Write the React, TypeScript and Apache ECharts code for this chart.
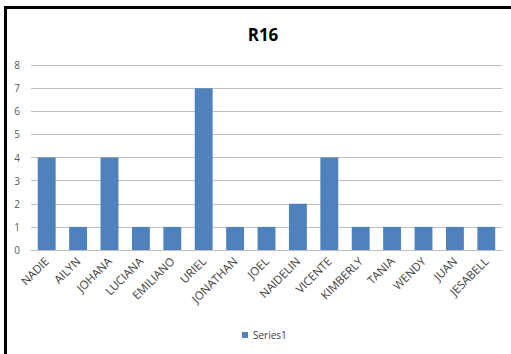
import React, { useEffect, useRef } from "react";
import * as echarts from "echarts";

const categories = ["NADIE", "AILYN", "JOHANA", "LUCIANA", "EMILIANO", "URIEL", "JONATHAN", "JOEL", "NAIDELIN", "VICENTE", "KIMBERLY", "TANIA", "WENDY", "JUAN", "JESABELL"];
const series1 = [4, 1, 4, 1, 1, 7, 1, 1, 2, 4, 1, 1, 1, 1, 1];
const seriesName = "Series1";
const titleText = "R16";

export default function App() {
  const ref = useRef<HTMLDivElement>(null);
  useEffect(() => {
    const chart = echarts.init(ref.current!, null, { renderer: "svg" });
    const font = "'Open Sans', 'Liberation Sans', sans-serif";
    chart.setOption({
      animation: false,
      backgroundColor: "#ffffff",
      title: {
        text: titleText,
        left: 258,
        textAlign: "center",
        top: 21,
        textStyle: { fontFamily: font, fontSize: 17, fontWeight: "bold", color: "#000" },
      },
      graphic: [
        {
          type: "polyline",
          shape: { points: [[5.5, 354], [5.5, 7.5], [511, 7.5]] },
          style: { stroke: "#000", lineWidth: 3, fill: null },
          z: 100,
        },
      ],
      legend: {
        data: [seriesName],
        bottom: 9,
        left: 237,
        icon: "rect",
        itemWidth: 6,
        itemHeight: 6,
        itemGap: 4,
        textStyle: { fontFamily: font, fontSize: 10, color: "#404040" },
      },
      grid: { left: 31, right: 9, top: 65, bottom: 104 },
      xAxis: {
        type: "category",
        data: categories,
        axisLine: { lineStyle: { color: "#bfbfbf" } },
        axisTick: { show: false },
        axisLabel: {
          rotate: 45,
          interval: 0,
          fontFamily: font,
          fontSize: 11.5,
          color: "#404040",
          margin: 9,
        },
      },
      yAxis: {
        type: "value",
        min: 0,
        max: 8,
        interval: 1,
        axisLine: { show: false },
        axisTick: { show: false },
        splitLine: { lineStyle: { color: "#bfbfbf" } },
        axisLabel: { fontFamily: font, fontSize: 10, color: "#595959", margin: 11 },
      },
      series: [
        {
          name: seriesName,
          type: "bar",
          data: series1,
          barCategoryGap: "43%",
          itemStyle: { color: "#4F81BD" },
        },
      ],
    });
    return () => chart.dispose();
  }, []);
  return (
    <div
      ref={ref}
      style={{ position: "absolute", left: 0, top: 0, width: 511, height: 354, background: "#fff" }}
    />
  );
}
